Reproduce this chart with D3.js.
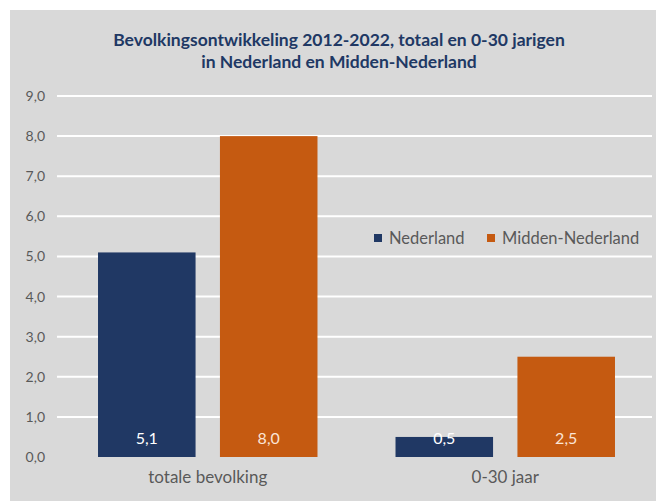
<!DOCTYPE html>
<html><head><meta charset="utf-8">
<script src="https://cdn.jsdelivr.net/npm/d3@7"></script>
<style>body{margin:0;background:#fff}svg{display:block}text{font-family:Lato,"Open Sans",sans-serif}</style>
</head><body><svg id="c" width="656" height="501"></svg>
<script>
const categories = ["totale bevolking", "0-30 jaar"];
const seriesNames = ["Nederland", "Midden-Nederland"];
const nederland = [5.1, 0.5];
const middenNederland = [8.0, 2.5];
const yTicks = [0,1,2,3,4,5,6,7,8,9];
const titleLines = ["Bevolkingsontwikkeling 2012-2022, totaal en 0-30 jarigen", "in Nederland en Midden-Nederland"];
const colors = {"Nederland":"#203864","Midden-Nederland":"#c55a11"};

const svg = d3.select("#c");
svg.append("rect").attr("x",10).attr("y",10).attr("width",646).attr("height",491).attr("fill","#d9d9d9");

const y = d3.scaleLinear().domain([0,9]).range([457,96]);
const x0 = d3.scaleBand().domain(categories).range([59,654]);
const x1 = d3.scaleBand().domain(seriesNames).range([0,x0.bandwidth()]).paddingInner(0.2).paddingOuter(0.32);

// gridlines (no line at 0)
svg.append("g").selectAll("line").data(yTicks.filter(d=>d>0)).join("line")
  .attr("x1",57).attr("x2",652).attr("y1",d=>y(d)).attr("y2",d=>y(d))
  .attr("stroke","#fff").attr("stroke-width",2);

const yAxis = d3.axisLeft(y).tickValues(yTicks).tickSize(0).tickPadding(0)
  .tickFormat(d=>d3.format(".1f")(d).replace(".",","));
const ga = svg.append("g").attr("transform","translate(45,0)").call(yAxis);
ga.select(".domain").remove();
ga.selectAll("text").attr("fill","#595959").style("font-size","14px").style("font-family","Lato,sans-serif");

const data = categories.map((c,i)=>({cat:c, vals:[{s:"Nederland",v:nederland[i]},{s:"Midden-Nederland",v:middenNederland[i]}]}));
const g = svg.append("g").selectAll("g").data(data).join("g").attr("transform",d=>`translate(${x0(d.cat)},0)`);
g.selectAll("rect").data(d=>d.vals).join("rect")
  .attr("x",d=>x1(d.s)).attr("width",x1.bandwidth())
  .attr("y",d=>y(d.v)).attr("height",d=>y(0)-y(d.v)).attr("fill",d=>colors[d.s]);
g.selectAll("text.val").data(d=>d.vals).join("text").attr("class","val")
  .attr("x",d=>x1(d.s)+x1.bandwidth()/2).attr("y",444).attr("text-anchor","middle")
  .attr("fill",d=>d.s==="Nederland"?"#ffffff":"#fbe5d6").style("font-size","16px")
  .text(d=>d3.format(".1f")(d.v).replace(".",","));

const xAxis = d3.axisBottom(x0).tickSize(0).tickPadding(0);
const gx = svg.append("g").attr("transform","translate(0,471)").call(xAxis);
gx.select(".domain").remove();
gx.selectAll("text").attr("fill","#595959").style("font-size","17px").style("font-family","Lato,sans-serif");

// title
svg.append("g").selectAll("text").data(titleLines).join("text")
  .attr("x",339).attr("y",(d,i)=>46+i*22).attr("text-anchor","middle")
  .attr("fill","#203864").style("font-size","17.5px").style("font-weight","bold").text(d=>d);

// legend
const legX = [374, 487];
const lg = svg.append("g").selectAll("g").data(seriesNames).join("g")
  .attr("transform",(d,i)=>`translate(${legX[i]},234)`);
lg.append("rect").attr("width",8).attr("height",8).attr("fill",d=>colors[d]);
lg.append("text").attr("x",15).attr("y",9.5).attr("fill","#595959").style("font-size","16.5px").text(d=>d);
</script></body></html>
